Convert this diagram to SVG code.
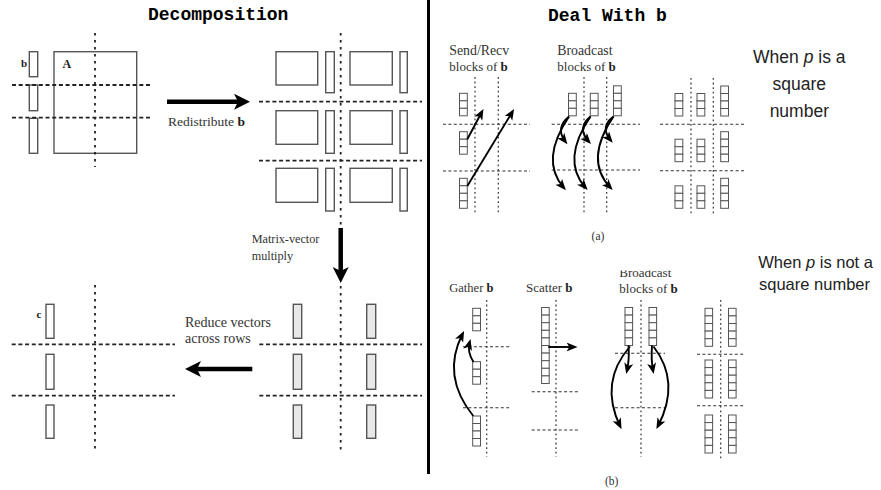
<svg xmlns="http://www.w3.org/2000/svg" xmlns:xlink="http://www.w3.org/1999/xlink" width="881" height="490" viewBox="0 0 881 490">
<style>
.box{fill:none;stroke:#555;stroke-width:1.4}
.gbox{fill:#e8e8e8;stroke:#555;stroke-width:1.4}
.cell{fill:#fff;stroke:#555;stroke-width:1}
.dash{fill:none;stroke:#222;stroke-width:1.8;stroke-dasharray:4 2.7}
.dot{fill:none;stroke:#222;stroke-width:1.8;stroke-dasharray:2.4 4.6}
.tdash{fill:none;stroke:#333;stroke-width:1.1;stroke-dasharray:3 2.4}
.tdot{fill:none;stroke:#333;stroke-width:1.2;stroke-dasharray:1.8 2.8}
.thick{fill:none;stroke:#000;stroke-width:4.5;marker-end:url(#ah)}
.thin{fill:none;stroke:#000;stroke-width:1.9;marker-end:url(#sh)}
.lbl{font-family:"Liberation Serif","Times New Roman",serif;fill:#333}
.bold{font-weight:bold;fill:#222}
.title{font-family:"Liberation Mono","Courier New",monospace;font-size:18px;font-weight:bold;fill:#000}
.note{font-family:"Liberation Sans",Arial,sans-serif;fill:#222}
</style>
<defs>
<marker id="ah" markerUnits="userSpaceOnUse" markerWidth="17" markerHeight="17" refX="6" refY="8" orient="auto">
<path d="M0,0 L16,8 L0,16 L4,8 Z" fill="#000"/>
</marker>
<marker id="sh" markerUnits="userSpaceOnUse" markerWidth="12" markerHeight="10" refX="7.5" refY="4.5" orient="auto">
<path d="M0,0 L11,4.5 L0,9 L2.8,4.5 Z" fill="#000"/>
</marker>
<g id="c3"><rect class="cell" x="0" y="0" width="7.8" height="7.5"/><rect class="cell" x="0" y="7.5" width="7.8" height="7.5"/><rect class="cell" x="0" y="15" width="7.8" height="7.5"/></g>
<g id="c4"><use xlink:href="#c3"/><rect class="cell" x="0" y="22.5" width="7.8" height="7.5"/></g>
<g id="c5"><rect class="cell" x="0" y="0" width="7.6" height="7.6"/><rect class="cell" x="0" y="7.6" width="7.6" height="7.6"/><rect class="cell" x="0" y="15.2" width="7.6" height="7.6"/><rect class="cell" x="0" y="22.8" width="7.6" height="7.6"/><rect class="cell" x="0" y="30.4" width="7.6" height="7.6"/></g>
<clipPath id="clipB"><rect x="600" y="270.5" width="80" height="30"/></clipPath>
</defs>
<rect width="881" height="490" fill="#fff"/>

<!-- titles -->
<g id="titles">
<text class="title" x="148" y="19.5">Decomposition</text>
<text class="title" x="548" y="20.5">Deal With b</text>
</g>
<rect id="divider" x="427" y="0" width="3" height="474" fill="#000"/>

<!-- Left top: b and A -->
<g id="vector-b">
<rect class="box" x="29.3" y="51.7" width="8.4" height="25"/>
<rect class="box" x="29.3" y="85" width="8.4" height="25.7"/>
<rect class="box" x="29.3" y="118.3" width="8.4" height="35"/>
<text class="lbl bold" x="21" y="67" font-size="11">b</text>
</g>
<g id="matrix-A">
<rect class="box" x="54" y="51.7" width="82.7" height="101.6"/>
<text class="lbl bold" x="62.5" y="68" font-size="12">A</text>
</g>
<g id="grid-A">
<line class="dash" x1="12" y1="85" x2="151" y2="85"/>
<line class="dash" x1="12" y1="117.7" x2="151" y2="117.7"/>
<line class="dot" x1="95" y1="33" x2="95" y2="167"/>
</g>

<!-- Right top: redistributed -->
<g id="distributed">
<rect class="box" x="276" y="51.7" width="41.7" height="33.3"/>
<rect class="box" x="325.7" y="51.7" width="8.6" height="41"/>
<rect class="box" x="350" y="51.7" width="42.3" height="33.3"/>
<rect class="box" x="400" y="51.7" width="7.3" height="41"/>
<rect class="box" x="276" y="110.7" width="41.7" height="33.6"/>
<rect class="box" x="325.7" y="110.7" width="8.6" height="42.6"/>
<rect class="box" x="350" y="110.7" width="42.3" height="33.6"/>
<rect class="box" x="400" y="110.7" width="7.3" height="42.6"/>
<rect class="box" x="276" y="168.3" width="41.7" height="34"/>
<rect class="box" x="325.7" y="168.3" width="8.6" height="42.7"/>
<rect class="box" x="350" y="168.3" width="42.3" height="34"/>
<rect class="box" x="400" y="168.3" width="7.3" height="42.7"/>
<line class="dash" x1="259" y1="101.7" x2="422" y2="101.7"/>
<line class="dash" x1="259" y1="160.7" x2="422" y2="160.7"/>
<line class="dot" x1="340.7" y1="33" x2="340.7" y2="225"/>
</g>

<!-- Right bottom: partial results -->
<g id="partial">
<rect class="gbox" x="293.3" y="304.3" width="8.4" height="34"/>
<rect class="gbox" x="366.7" y="304.3" width="9" height="34"/>
<rect class="gbox" x="293.3" y="354.3" width="8.4" height="35"/>
<rect class="gbox" x="366.7" y="354.3" width="9" height="35"/>
<rect class="gbox" x="293.3" y="405" width="8.4" height="33.3"/>
<rect class="gbox" x="366.7" y="405" width="9" height="33.3"/>
<line class="dash" x1="259.3" y1="344.3" x2="422" y2="344.3"/>
<line class="dash" x1="259.3" y1="395.7" x2="422" y2="395.7"/>
<line class="dot" x1="340.7" y1="286" x2="340.7" y2="450"/>
</g>

<!-- Left bottom: result c -->
<g id="vector-c">
<rect class="box" x="46" y="304.3" width="8" height="34"/>
<rect class="box" x="46" y="354.3" width="8" height="35"/>
<rect class="box" x="46" y="405" width="8" height="33.3"/>
<text class="lbl bold" x="36.5" y="317.7" font-size="11">c</text>
<line class="dash" x1="11.7" y1="344.3" x2="175" y2="344.3"/>
<line class="dash" x1="11.7" y1="395.7" x2="175" y2="395.7"/>
<line class="dot" x1="95" y1="285" x2="95" y2="450"/>
</g>

<g id="left-labels">
<text class="lbl" x="168" y="126" font-size="13.5">Redistribute <tspan class="bold">b</tspan></text>
<text class="lbl" x="251.7" y="243.3" font-size="12.2">Matrix-vector</text>
<text class="lbl" x="251.7" y="260" font-size="12.2">multiply</text>
<text class="lbl" x="185" y="326.7" font-size="14">Reduce vectors</text>
<text class="lbl" x="185" y="343.3" font-size="14">across rows</text>
</g>

<!-- (a) Send/Recv -->
<g id="a-sendrecv">
<text class="lbl" x="449.3" y="55" font-size="13.8">Send/Recv</text>
<text class="lbl" x="449.3" y="70.7" font-size="13">blocks of <tspan class="bold">b</tspan></text>
<line class="tdot" x1="475" y1="77" x2="475" y2="215"/>
<line class="tdot" x1="498.3" y1="77" x2="498.3" y2="215"/>
<line class="tdash" x1="443" y1="124.3" x2="530" y2="124.3"/>
<line class="tdash" x1="443" y1="171" x2="530" y2="171"/>
<use xlink:href="#c3" x="459.5" y="93.3"/>
<use xlink:href="#c3" x="459.5" y="131.7"/>
<use xlink:href="#c4" x="459.5" y="178.3"/>
</g>

<!-- (a) Broadcast -->
<g id="a-broadcast">
<text class="lbl" x="557.3" y="55" font-size="13.8">Broadcast</text>
<text class="lbl" x="557.3" y="70.7" font-size="13">blocks of <tspan class="bold">b</tspan></text>
<line class="tdot" x1="584" y1="77" x2="584" y2="215"/>
<line class="tdot" x1="606.7" y1="77" x2="606.7" y2="215"/>
<line class="tdash" x1="551.7" y1="124.3" x2="640" y2="124.3"/>
<line class="tdash" x1="551.7" y1="170" x2="640" y2="170"/>
<use xlink:href="#c3" x="568.5" y="93.3"/>
<use xlink:href="#c3" x="590.3" y="93.3"/>
<use xlink:href="#c4" x="613.5" y="85.8"/>
</g>

<!-- (a) Result -->
<g id="a-result">
<line class="tdot" x1="691" y1="78" x2="691" y2="214"/>
<line class="tdot" x1="713.3" y1="78" x2="713.3" y2="214"/>
<line class="tdash" x1="660" y1="124.3" x2="745" y2="124.3"/>
<line class="tdash" x1="660" y1="170.7" x2="745" y2="170.7"/>
<use xlink:href="#c3" x="675" y="93.5"/>
<use xlink:href="#c3" x="697" y="93.5"/>
<use xlink:href="#c4" x="720.7" y="86"/>
<use xlink:href="#c3" x="675" y="139.2"/>
<use xlink:href="#c3" x="697" y="139.2"/>
<use xlink:href="#c4" x="720.7" y="131.7"/>
<use xlink:href="#c3" x="675" y="185.8"/>
<use xlink:href="#c3" x="697" y="185.8"/>
<use xlink:href="#c4" x="720.7" y="178.3"/>
</g>
<text id="cap-a" class="lbl" x="598" y="240" font-size="11.5" text-anchor="middle">(a)</text>

<!-- (b) Gather -->
<g id="b-gather">
<text class="lbl" x="449.3" y="292" font-size="12.5">Gather <tspan class="bold">b</tspan></text>
<line class="tdot" x1="486.7" y1="300" x2="486.7" y2="457"/>
<line class="tdash" x1="463" y1="346.7" x2="511" y2="346.7"/>
<line class="tdash" x1="463" y1="407.7" x2="511" y2="407.7"/>
<use xlink:href="#c3" x="472.7" y="308.3"/>
<use xlink:href="#c3" x="472.7" y="361.7"/>
<use xlink:href="#c4" x="472.7" y="416"/>
</g>

<!-- (b) Scatter -->
<g id="b-scatter">
<text class="lbl" x="526" y="292" font-size="13">Scatter <tspan class="bold">b</tspan></text>
<line class="tdot" x1="556" y1="300" x2="556" y2="457"/>
<line class="tdash" x1="531.7" y1="391.7" x2="580" y2="391.7"/>
<line class="tdash" x1="531.7" y1="430" x2="580" y2="430"/>
<use xlink:href="#c5" x="541.6" y="307.5"/>
<use xlink:href="#c5" x="541.6" y="345.5"/>
</g>

<!-- (b) Broadcast -->
<g id="b-broadcast">
<g clip-path="url(#clipB)"><text class="lbl" x="619.3" y="277" font-size="13">Broadcast</text></g>
<text class="lbl" x="619.3" y="292.8" font-size="13">blocks of <tspan class="bold">b</tspan></text>
<line class="tdot" x1="641" y1="300" x2="641" y2="457"/>
<line class="tdash" x1="615" y1="353.3" x2="665" y2="353.3"/>
<line class="tdash" x1="615" y1="407.7" x2="665" y2="407.7"/>
<use xlink:href="#c5" x="625" y="307.5"/>
<use xlink:href="#c5" x="649" y="307.5"/>
</g>

<!-- (b) Result -->
<g id="b-result">
<line class="tdot" x1="720.7" y1="300" x2="720.7" y2="461"/>
<line class="tdash" x1="697" y1="354.3" x2="745" y2="354.3"/>
<line class="tdash" x1="697" y1="405.7" x2="745" y2="405.7"/>
<use xlink:href="#c5" x="705" y="308.3"/>
<use xlink:href="#c5" x="728.5" y="308.3"/>
<use xlink:href="#c5" x="705" y="360"/>
<use xlink:href="#c5" x="728.5" y="360"/>
<use xlink:href="#c5" x="705" y="415"/>
<use xlink:href="#c5" x="728.5" y="415"/>
</g>
<text id="cap-b" class="lbl" x="611.7" y="485" font-size="11.5" text-anchor="middle">(b)</text>

<!-- notes -->
<g id="note-square">
<text class="note" font-size="17.5" x="799.3" y="63.3" text-anchor="middle">When <tspan font-style="italic">p</tspan> is a</text>
<text class="note" font-size="17.5" x="799.3" y="90" text-anchor="middle">square</text>
<text class="note" font-size="17.5" x="799.3" y="116.7" text-anchor="middle">number</text>
</g>
<g id="note-notsquare">
<text class="note" font-size="16.5" x="758.3" y="268.3">When <tspan font-style="italic">p</tspan> is not a</text>
<text class="note" font-size="16.5" x="759" y="290">square number</text>
</g>

<!-- connectors -->
<g id="connectors">
<path class="thick" d="M167,101.7 L240,101.7"/>
<path class="thick" d="M340.7,228 L340.7,273"/>
<path class="thick" d="M252.3,369 L195,369"/>
<path class="thin" d="M467.3,139.3 L481.8,112"/>
<path class="thin" d="M467.3,186 L512.3,112"/>
<path class="thin" d="M569,116.5 Q555,128 565.3,141.5"/>
<path class="thin" d="M569,116.5 Q539.6,160 563.6,187.5"/>
<path class="thin" d="M590.5,116.5 Q576.5,128 588.6,141.5"/>
<path class="thin" d="M590.5,116.5 Q561,160 585.3,187.5"/>
<path class="thin" d="M613.5,116.5 Q599.5,127 610.5,140"/>
<path class="thin" d="M613.5,116.5 Q584,160 610.3,187.5"/>
<path class="thin" d="M473.5,362 Q467,352 469.6,342.5"/>
<path class="thin" d="M473.3,416 Q441,376 462.5,334"/>
<path class="thin" d="M548.3,347 L574,347"/>
<path class="thin" d="M628.5,345.5 Q629.5,360 627,370.5"/>
<path class="thin" d="M630,346.5 Q599,382 620,426"/>
<path class="thin" d="M652,345.5 Q651,360 653,370.5"/>
<path class="thin" d="M653.5,346.5 Q681,382 658,426"/>
</g>
</svg>
